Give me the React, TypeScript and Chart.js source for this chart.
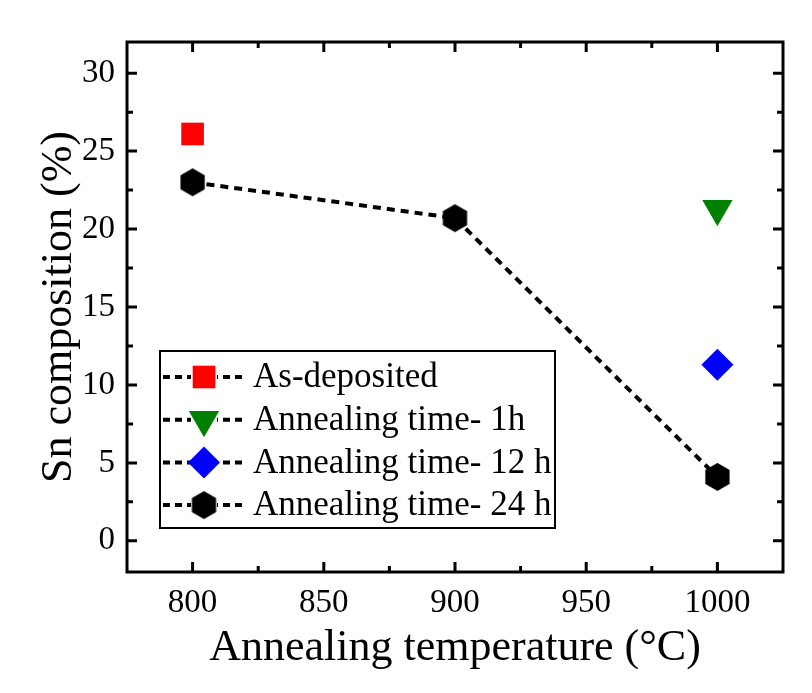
import React, { useEffect, useRef } from 'react';
import { Chart, registerables } from 'chart.js';
import { drawPoint } from 'chart.js/helpers';

Chart.register(...registerables);

// ---- data ----
const xTickValues = [800, 850, 900, 950, 1000];
const xMinorTicks = [825, 875, 925, 975];
const yTickValues = [0, 5, 10, 15, 20, 25, 30];
const yMinorTicks = [2.5, 7.5, 12.5, 17.5, 22.5, 27.5];

const asDepositedX = [800];
const asDepositedY = [26.1];
const anneal1hX = [1000];
const anneal1hY = [21.3];
const anneal12hX = [1000];
const anneal12hY = [11.3];
const anneal24hX = [800, 900, 1000];
const anneal24hY = [23.0, 20.7, 4.1];

const seriesLabels = [
  'As-deposited',
  'Annealing time- 1h',
  'Annealing time- 12 h',
  'Annealing time- 24 h',
];

const FONT = "'Liberation Serif', 'Times New Roman', serif";

function makeHexagon(r: number, color: string): HTMLCanvasElement {
  const c = document.createElement('canvas');
  const w = Math.ceil(r * Math.sqrt(3)) + 2;
  const h = Math.ceil(2 * r) + 2;
  c.width = w;
  c.height = h;
  const ctx = c.getContext('2d')!;
  ctx.fillStyle = color;
  ctx.beginPath();
  for (let i = 0; i < 6; i++) {
    const ang = -Math.PI / 2 + (i * Math.PI) / 3;
    const px = w / 2 + r * Math.cos(ang);
    const py = h / 2 + r * Math.sin(ang);
    if (i === 0) ctx.moveTo(px, py);
    else ctx.lineTo(px, py);
  }
  ctx.closePath();
  ctx.fill();
  return c;
}

const toPts = (xs: number[], ys: number[]) => xs.map((x, i) => ({ x, y: ys[i] }));

const framePlugin = {
  id: 'frame',
  afterDraw(chart: any) {
    const { ctx, chartArea: a, scales } = chart;
    const x = scales.x;
    const y = scales.y;
    ctx.save();
    ctx.strokeStyle = '#000';
    ctx.lineWidth = 3;
    ctx.strokeRect(a.left, a.top, a.right - a.left, a.bottom - a.top);
    ctx.lineWidth = 3;
    const major = 10;
    const minor = 6;
    ctx.beginPath();
    const xt = (vals: number[], len: number) => {
      for (const v of vals) {
        const px = x.getPixelForValue(v);
        ctx.moveTo(px, a.bottom);
        ctx.lineTo(px, a.bottom - len);
        ctx.moveTo(px, a.top);
        ctx.lineTo(px, a.top + len);
      }
    };
    const yt = (vals: number[], len: number) => {
      for (const v of vals) {
        const py = y.getPixelForValue(v);
        ctx.moveTo(a.left, py);
        ctx.lineTo(a.left + len, py);
        ctx.moveTo(a.right, py);
        ctx.lineTo(a.right - len, py);
      }
    };
    xt(xTickValues, major);
    xt(xMinorTicks, minor);
    yt(yTickValues, major);
    yt(yMinorTicks, minor);
    ctx.stroke();
    ctx.restore();
  },
};

const legendPlugin = {
  id: 'customLegend',
  afterDraw(chart: any) {
    const { ctx, chartArea: a } = chart;
    const left = a.left + 33;
    const top = a.top + 309;
    const w = 395;
    const h = 177;
    ctx.save();
    ctx.strokeStyle = '#000';
    ctx.lineWidth = 2;
    ctx.strokeRect(left, top, w, h);
    const rowH = 42.7;
    chart.data.datasets.forEach((ds: any, i: number) => {
      const cy = top + 26 + i * rowH;
      ctx.save();
      ctx.strokeStyle = '#000';
      ctx.lineWidth = 4;
      ctx.setLineDash([7, 5]);
      ctx.beginPath();
      ctx.moveTo(left + 3, cy);
      ctx.lineTo(left + 85, cy);
      ctx.stroke();
      ctx.restore();
      const mx = left + 44;
      ctx.save();
      ctx.fillStyle = '#fff';
      ctx.fillRect(mx - 13, cy - 15, 26, 30);
      ctx.restore();
      ctx.save();
      ctx.fillStyle = ds.pointBackgroundColor;
      ctx.strokeStyle = ds.pointBackgroundColor;
      drawPoint(ctx, {
        pointStyle: ds.pointStyle,
        rotation: ds.pointRotation || 0,
        radius: ds.pointRadius,
        borderWidth: 0,
      } as any, mx, cy);
      ctx.restore();
      ctx.fillStyle = '#000';
      ctx.font = `35px ${FONT}`;
      ctx.textAlign = 'left';
      ctx.textBaseline = 'middle';
      ctx.fillText(ds.label, left + 93, cy + 1);
    });
    ctx.restore();
  },
};

export default function App() {
  const ref = useRef<HTMLCanvasElement>(null);
  useEffect(() => {
    const hex = makeHexagon(14, '#000000');
    const chart = new Chart(ref.current!, {
      type: 'scatter',
      data: {
        datasets: [
          {
            label: seriesLabels[0],
            data: toPts(asDepositedX, asDepositedY),
            pointStyle: 'rect',
            pointRadius: 16,
            pointBackgroundColor: '#ff0000',
            pointBorderWidth: 0,
            showLine: false,
          },
          {
            label: seriesLabels[1],
            data: toPts(anneal1hX, anneal1hY),
            pointStyle: 'triangle',
            pointRotation: 180,
            pointRadius: 17.5,
            pointBackgroundColor: '#008000',
            pointBorderWidth: 0,
            showLine: false,
          },
          {
            label: seriesLabels[2],
            data: toPts(anneal12hX, anneal12hY),
            pointStyle: 'rectRot',
            pointRadius: 16,
            pointBackgroundColor: '#0000ff',
            pointBorderWidth: 0,
            showLine: false,
          },
          {
            label: seriesLabels[3],
            data: toPts(anneal24hX, anneal24hY),
            pointStyle: hex,
            pointRadius: 14,
            pointBackgroundColor: '#000000',
            pointBorderWidth: 0,
            showLine: true,
            borderColor: '#000000',
            borderWidth: 4,
            borderDash: [8, 6],
          },
        ] as any,
      },
      options: {
        animation: false,
        responsive: false,
        devicePixelRatio: 1,
        layout: { padding: { top: 34, right: 21, left: 0, bottom: 0 } },
        plugins: { legend: { display: false }, tooltip: { enabled: false } },
        scales: {
          x: {
            type: 'linear',
            min: 775,
            max: 1025,
            afterBuildTicks: (s: any) => {
              s.ticks = xTickValues.map((v) => ({ value: v }));
            },
            afterFit: (s: any) => {
              s.height = 113;
            },
            grid: { display: false, drawTicks: false },
            border: { display: false },
            ticks: {
              padding: 12,
              color: '#000',
              font: { family: FONT, size: 33 },
              autoSkip: false,
              maxRotation: 0,
              callback: (v: any) => String(v),
            },
            title: {
              display: true,
              text: 'Annealing temperature (°C)',
              color: '#000',
              font: { family: FONT, size: 44 },
              padding: { top: 0, bottom: 10 },
            },
          },
          y: {
            type: 'linear',
            min: -2,
            max: 32,
            afterBuildTicks: (s: any) => {
              s.ticks = yTickValues.map((v) => ({ value: v }));
            },
            afterFit: (s: any) => {
              s.width = 119;
            },
            grid: { display: false, drawTicks: false },
            border: { display: false },
            ticks: {
              padding: 12,
              color: '#000',
              font: { family: FONT, size: 33 },
              autoSkip: false,
              callback: (v: any) => String(v),
            },
            title: {
              display: true,
              text: 'Sn composition (%)',
              color: '#000',
              font: { family: FONT, size: 44 },
              padding: { top: 25, bottom: 0 },
            },
          },
        },
      } as any,
      plugins: [framePlugin, legendPlugin],
    });
    return () => chart.destroy();
  }, []);
  return (
    <div style={{ width: 796, height: 677, background: '#fff' }}>
      <canvas ref={ref} width={796} height={677} style={{ display: 'block' }} />
    </div>
  );
}
